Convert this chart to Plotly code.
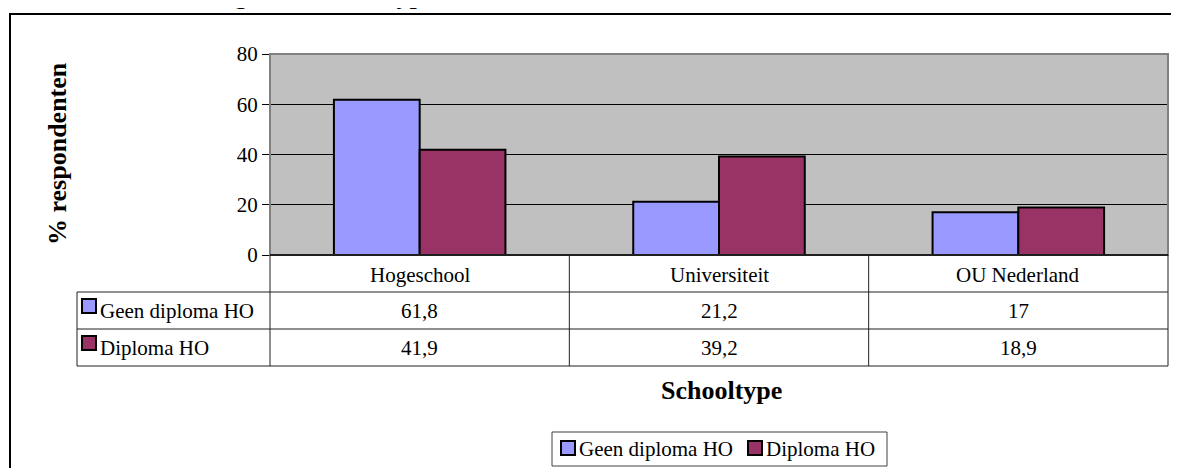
import plotly.graph_objects as go

# ---- data ----
categories = ["Hogeschool", "Universiteit", "OU Nederland"]
series_names = ["Geen diploma HO", "Diploma HO"]
geen_diploma = [61.8, 21.2, 17]
diploma = [41.9, 39.2, 18.9]
y_ticks = [0, 20, 40, 60, 80]
colors = ["#9999FF", "#993366"]

W, H = 1179, 468
OFF = 8  # page body margin of the html page
FONT = "Liberation Serif, Times New Roman, serif"
FS = 21


def px(x):
    return (x - OFF) / W


def py(y):
    return 1 - (y - OFF) / H


# plot area in (screen) pixels
PL, PR, PT, PB = 270, 1168, 54, 255
ROW_H = 37
TABLE_LEFT = 77

fig = go.Figure()
for name, vals, col in zip(series_names, [geen_diploma, diploma], colors):
    fig.add_trace(go.Bar(
        x=categories, y=vals, name=name,
        marker=dict(color=col, line=dict(color="black", width=2)),
        showlegend=False,
    ))

fig.update_layout(
    width=W, height=H,
    margin=dict(l=0, r=0, t=0, b=0, pad=0, autoexpand=False),
    paper_bgcolor="white",
    plot_bgcolor="#C0C0C0",
    barmode="group",
    bargap=0.427,
    bargroupgap=0,
    showlegend=False,
    font=dict(family=FONT, size=FS, color="black"),
    xaxis=dict(domain=[px(PL), px(PR)], showticklabels=False, showgrid=False,
               zeroline=False, ticks="", automargin=False),
    yaxis=dict(domain=[py(PB), py(PT)], range=[0, 80], tickvals=y_ticks,
               showgrid=True, gridcolor="black", gridwidth=1, zeroline=False,
               ticks="outside", ticklen=7, tickcolor="black", tickwidth=1,
               tickfont=dict(family=FONT, size=FS, color="black"),
               showline=False, automargin=False),
)

shapes = []
# outer chart border
shapes.append(dict(type="rect", xref="paper", yref="paper",
                   x0=px(10), x1=px(1200), y0=py(490), y1=py(14),
                   line=dict(color="black", width=2)))
# plot-area border
shapes.append(dict(type="rect", xref="paper", yref="paper",
                   x0=px(PL), x1=px(PR), y0=py(PB), y1=py(PT),
                   line=dict(color="#808080", width=2)))

# data table lines
n_rows = len(series_names)
col_edges = [PL + i * (PR - PL) / len(categories) for i in range(len(categories) + 1)]
table_bottom = PB + ROW_H * (n_rows + 1)
line_style = dict(color="#202020", width=1)
shapes.append(dict(type="line", xref="paper", yref="paper",
                   x0=px(PL), x1=px(PR), y0=py(PB), y1=py(PB), line=dict(color="black", width=1.5)))
for r in range(1, n_rows + 2):
    yy = PB + r * ROW_H
    shapes.append(dict(type="line", xref="paper", yref="paper",
                       x0=px(TABLE_LEFT), x1=px(PR), y0=py(yy), y1=py(yy), line=line_style))
for xe in col_edges:
    shapes.append(dict(type="line", xref="paper", yref="paper",
                       x0=px(xe), x1=px(xe), y0=py(PB), y1=py(table_bottom), line=line_style))
shapes.append(dict(type="line", xref="paper", yref="paper",
                   x0=px(TABLE_LEFT), x1=px(TABLE_LEFT), y0=py(PB + ROW_H), y1=py(table_bottom),
                   line=line_style))

annotations = []


def fmt(v):
    return ("%g" % v).replace(".", ",")


# category header
for i, c in enumerate(categories):
    cx = (col_edges[i] + col_edges[i + 1]) / 2
    annotations.append(dict(xref="paper", yref="paper", x=px(cx), y=py(PB + ROW_H / 2 + 1),
                            text=c, showarrow=False, xanchor="center", yanchor="middle",
                            font=dict(family=FONT, size=FS)))

# rows
for r, (name, vals, col) in enumerate(zip(series_names, [geen_diploma, diploma], colors)):
    top = PB + ROW_H * (r + 1)
    cy = top + ROW_H / 2
    shapes.append(dict(type="rect", xref="paper", yref="paper",
                       x0=px(82), x1=px(96), y0=py(top + 21), y1=py(top + 7),
                       fillcolor=col, line=dict(color="black", width=2)))
    annotations.append(dict(xref="paper", yref="paper", x=px(98), y=py(cy),
                            text=name, showarrow=False, xanchor="left", yanchor="middle",
                            font=dict(family=FONT, size=FS)))
    for i, v in enumerate(vals):
        cx = (col_edges[i] + col_edges[i + 1]) / 2
        annotations.append(dict(xref="paper", yref="paper", x=px(cx), y=py(cy),
                                text=fmt(v), showarrow=False, xanchor="center", yanchor="middle",
                                font=dict(family=FONT, size=FS)))

# axis titles
annotations.append(dict(xref="paper", yref="paper", x=px(57), y=py(153),
                        text="<b>% respondenten</b>", showarrow=False, textangle=-90,
                        xanchor="center", yanchor="middle", font=dict(family=FONT, size=26)))
annotations.append(dict(xref="paper", yref="paper", x=px(721), y=py(390),
                        text="<b>Schooltype</b>", showarrow=False,
                        xanchor="center", yanchor="middle", font=dict(family=FONT, size=26)))

# partially visible title at very top (only descenders show in the reference)
annotations.append(dict(xref="paper", yref="paper", x=px(138), y=py(12.4),
                        text="<b>Verdeling naar  schooltype</b>", showarrow=False,
                        xanchor="left", yanchor="bottom", font=dict(family=FONT, size=26)))

# legend box (bottom)
shapes.append(dict(type="rect", xref="paper", yref="paper",
                   x0=px(552), x1=px(887), y0=py(466), y1=py(432),
                   fillcolor="white", line=dict(color="#404040", width=1)))
leg_x = [561, 748]
for name, col, lx in zip(series_names, colors, leg_x):
    shapes.append(dict(type="rect", xref="paper", yref="paper",
                       x0=px(lx), x1=px(lx + 14), y0=py(455), y1=py(441),
                       fillcolor=col, line=dict(color="black", width=2)))
    annotations.append(dict(xref="paper", yref="paper", x=px(lx + 16), y=py(449),
                            text=name, showarrow=False, xanchor="left", yanchor="middle",
                            font=dict(family=FONT, size=FS)))

fig.update_layout(shapes=shapes, annotations=annotations)
fig.write_html("out.html")
